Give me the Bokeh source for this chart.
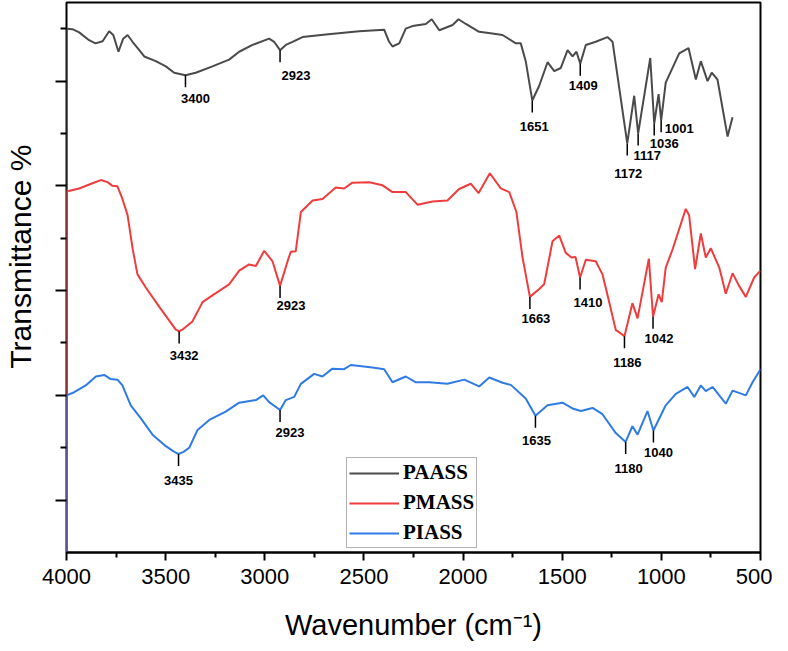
import numpy as np
from bokeh.plotting import figure
from bokeh.models import Range1d, FixedTicker, Legend, LegendItem, ColumnDataSource
from bokeh.core.properties import value
from bokeh.embed import file_html
from bokeh.resources import INLINE

# ---------------- data ----------------
paass_wn = [4000, 4000, 3970, 3936, 3886, 3854, 3818, 3785, 3764, 3738, 3714, 3692, 3667, 3633, 3608,
            3550, 3499, 3457, 3400, 3348, 3264, 3180, 3129, 3062, 2978, 2953, 2923, 2894, 2860, 2810,
            2692, 2524, 2398, 2373, 2356, 2322, 2289, 2255, 2188, 2158, 2120, 2053, 2023, 1986, 1919,
            1852, 1801, 1734, 1709, 1684, 1651, 1616, 1574, 1540, 1507, 1473, 1448, 1428, 1409, 1381,
            1331, 1272, 1246, 1172, 1137, 1117, 1056, 1036, 1014, 1001, 978, 910, 863, 826, 801,
            767, 746, 717, 666, 641]
paass_t = [0, 10.0, 9.99, 9.93, 9.78, 9.72, 9.76, 9.95, 9.88, 9.56, 9.81, 9.88, 9.75, 9.59, 9.47,
           9.38, 9.28, 9.16, 9.11, 9.16, 9.28, 9.41, 9.56, 9.69, 9.81, 9.75, 9.59, 9.69, 9.75, 9.84,
           9.89, 9.95, 9.98, 9.75, 9.66, 9.72, 10.0, 10.05, 10.09, 10.18, 9.97, 10.07, 10.18, 10.09, 9.94,
           9.91, 9.88, 9.72, 9.72, 9.38, 8.63, 8.91, 9.36, 9.19, 9.25, 9.59, 9.47, 9.56, 9.33, 9.69,
           9.75, 9.84, 9.75, 7.81, 8.72, 8.0, 9.44, 8.19, 8.75, 8.25, 8.97, 9.53, 9.63, 9.03, 9.38,
           9.0, 9.16, 9.03, 7.94, 8.31]

pmass_wn = [4000, 4000, 3936, 3869, 3827, 3793, 3768, 3743, 3718, 3692, 3667, 3642, 3600, 3532, 3465,
            3450, 3432, 3410, 3365, 3314, 3264, 3180, 3129, 3079, 3045, 3003, 2961, 2923, 2885, 2869,
            2844, 2818, 2759, 2709, 2642, 2600, 2558, 2473, 2406, 2356, 2289, 2230, 2154, 2079, 2020,
            1961, 1922, 1865, 1810, 1767, 1731, 1700, 1663, 1616, 1591, 1549, 1515, 1482, 1453, 1433,
            1410, 1381, 1331, 1297, 1265, 1230, 1205, 1186, 1146, 1120, 1063, 1042, 1014, 998, 978,
            944, 877, 860, 830, 801, 776, 751, 708, 675, 641, 608, 574, 532, 500]
pmass_t = [0, 6.89, 6.95, 7.05, 7.11, 7.07, 7.0, 6.99, 6.75, 6.44, 5.81, 5.31, 5.06, 4.69, 4.34,
           4.26, 4.22, 4.27, 4.41, 4.78, 4.91, 5.12, 5.38, 5.50, 5.47, 5.76, 5.56, 5.09, 5.56, 5.74,
           5.75, 6.50, 6.72, 6.75, 6.97, 6.95, 7.06, 7.07, 7.01, 6.88, 6.88, 6.64, 6.70, 6.72, 6.94,
           7.04, 6.86, 7.24, 6.95, 6.88, 6.50, 5.63, 4.88, 5.03, 5.12, 5.94, 6.05, 5.72, 5.63, 5.64,
           5.25, 5.59, 5.56, 5.31, 4.81, 4.25, 4.18, 4.13, 4.76, 4.47, 5.61, 4.50, 4.93, 4.78, 5.44,
           5.78, 6.56, 6.44, 5.41, 6.09, 5.63, 5.81, 5.44, 4.94, 5.33, 5.09, 4.88, 5.25, 5.38]

piass_wn = [4000, 4000, 3961, 3903, 3852, 3810, 3777, 3743, 3718, 3676, 3625, 3566, 3499, 3460, 3435,
            3410, 3381, 3339, 3280, 3197, 3129, 3045, 3008, 2978, 2923, 2894, 2852, 2818, 2751, 2709,
            2659, 2600, 2566, 2457, 2398, 2356, 2289, 2238, 2171, 2079, 1994, 1919, 1868, 1801, 1759,
            1684, 1635, 1574, 1499, 1448, 1406, 1347, 1297, 1230, 1180, 1146, 1120, 1070, 1040, 978,
            927, 868, 834, 801, 776, 742, 675, 641, 574, 540, 500]
piass_t = [0, 3.0, 3.06, 3.19, 3.36, 3.39, 3.31, 3.30, 3.19, 2.81, 2.56, 2.25, 2.03, 1.93, 1.88,
           1.92, 2.0, 2.34, 2.53, 2.69, 2.86, 2.91, 3.0, 2.87, 2.72, 2.91, 2.97, 3.22, 3.41, 3.36,
           3.51, 3.50, 3.58, 3.53, 3.50, 3.25, 3.36, 3.25, 3.25, 3.22, 3.30, 3.17, 3.34, 3.24, 3.20,
           2.94, 2.61, 2.81, 2.86, 2.75, 2.70, 2.76, 2.64, 2.28, 2.11, 2.41, 2.25, 2.70, 2.33, 2.81,
           3.03, 3.16, 2.97, 3.19, 3.08, 3.16, 2.84, 3.09, 3.0, 3.25, 3.50]

series_names = ["PAASS", "PMASS", "PIASS"]

paass_peaks = [3400, 2923, 1651, 1409, 1172, 1117, 1036, 1001]
pmass_peaks = [3432, 2923, 1663, 1410, 1186, 1042]
piass_peaks = [3435, 2923, 1635, 1180, 1040]

x_major_ticks = [4000, 3500, 3000, 2500, 2000, 1500, 1000, 500]
x_minor_ticks = [3750, 3250, 2750, 2250, 1750, 1250, 750]
y_major_ticks = [1, 3, 5, 7, 9]
y_minor_ticks = [2, 4, 6, 8, 10]

x_title = "Wavenumber (cm\u207b\u00b9)"
y_title = "Transmittance %"

# ---------------- styling / layout ----------------
colors = ["#4a4a4a", "#f03c3c", "#2f7be5"]
# label offsets (screen px: dx right, dy down from the peak minimum)
paass_off = [(10, 23), (16, 25), (2, 26), (3, 22), (1, 30), (9, 22), (10, 20), (18, 8)]
pmass_off = [(5, 24), (11, 20), (6, 22), (8, 25), (3, 26), (6, 22)]
piass_off = [(0, 26), (10, 22), (1, 25), (3, 27), (5, 22)]

FW, FH = 694, 550
Y0, Y1 = 0, 10.5
units_per_px = (Y1 - Y0) / FH
tick_len_px = 12

p = figure(frame_width=FW, frame_height=FH, output_backend="svg", toolbar_location=None,
           x_range=Range1d(4000, 500), y_range=Range1d(Y0, Y1),
           min_border_left=66, min_border_right=12, min_border_top=2, min_border_bottom=83)
p.grid.visible = False
p.background_fill_color = "white"
p.border_fill_color = "white"
p.outline_line_color = "black"
p.outline_line_width = 2

items = []
all_series = [(paass_wn, paass_t, paass_peaks, paass_off),
              (pmass_wn, pmass_t, pmass_peaks, pmass_off),
              (piass_wn, piass_t, piass_peaks, piass_off)]
for (wn, t, peaks, offs), name, col in zip(all_series, series_names, colors):
    r = p.line(wn, t, line_color=col, line_width=2)
    items.append(LegendItem(label=name, renderers=[r]))

for (wn, t, peaks, offs) in all_series:
    wn_a = np.array(wn[1:], dtype=float)[::-1]
    t_a = np.array(t[1:], dtype=float)[::-1]
    vals = np.interp(peaks, wn_a, t_a)
    src = ColumnDataSource(dict(x=peaks, y0=vals, y1=vals - tick_len_px * units_per_px,
                                txt=[str(v) for v in peaks],
                                dx=[o[0] for o in offs], dy=[o[1] for o in offs]))
    p.segment(x0="x", y0="y0", x1="x", y1="y1", source=src, line_color="black", line_width=1.5)
    p.text(x="x", y="y0", text="txt", x_offset="dx", y_offset="dy", source=src,
           text_font=value("Liberation Sans"), text_font_style="bold", text_font_size="13px",
           text_align="center", text_baseline="middle", text_color="black")

# axes
p.xaxis.ticker = FixedTicker(ticks=x_major_ticks, minor_ticks=x_minor_ticks)
p.yaxis.ticker = FixedTicker(ticks=y_major_ticks, minor_ticks=y_minor_ticks)
for ax in (p.xaxis, p.yaxis):
    ax.axis_line_width = 2
    ax.axis_line_color = "black"
    ax.major_tick_line_width = 2
    ax.minor_tick_line_width = 2
    ax.major_tick_in = 0
    ax.minor_tick_in = 0
    ax.axis_label_text_font = "Liberation Sans"
    ax.axis_label_text_font_style = "normal"
    ax.axis_label_text_color = "black"
p.yaxis.axis_line_color = None
p.xaxis.major_tick_out = 8
p.xaxis.minor_tick_out = 5
p.yaxis.major_tick_out = 11
p.yaxis.minor_tick_out = 6
p.xaxis.major_label_text_font = "Liberation Sans"
p.xaxis.major_label_text_font_size = "22px"
p.xaxis.major_label_text_color = "black"
p.xaxis.major_label_standoff = 8
p.yaxis.major_label_overrides = {t: "" for t in y_major_ticks}
p.yaxis.major_label_standoff = 0
p.xaxis.axis_label = x_title
p.xaxis.axis_label_text_font_size = "29px"
p.xaxis.axis_label_standoff = 22
# leading no-break spaces lift the rotated title a little above the axis centre
p.yaxis.axis_label = "\u00a0" * 5 + y_title
p.yaxis.axis_label_text_font_size = "30px"
p.yaxis.axis_label_standoff = 19

legend = Legend(items=items, location=(280, 4))
legend.label_text_font = "Liberation Serif"
legend.label_text_font_style = "bold"
legend.label_text_font_size = "21px"
legend.label_text_color = "black"
legend.glyph_width = 50
legend.glyph_height = 22
legend.label_height = 22
legend.label_standoff = 4
legend.spacing = 5
legend.padding = 2
legend.margin = 0
legend.border_line_color = "#666666"
legend.border_line_width = 1
legend.background_fill_alpha = 1.0
p.add_layout(legend, "center")

open("out.html", "w").write(file_html(p, INLINE))
